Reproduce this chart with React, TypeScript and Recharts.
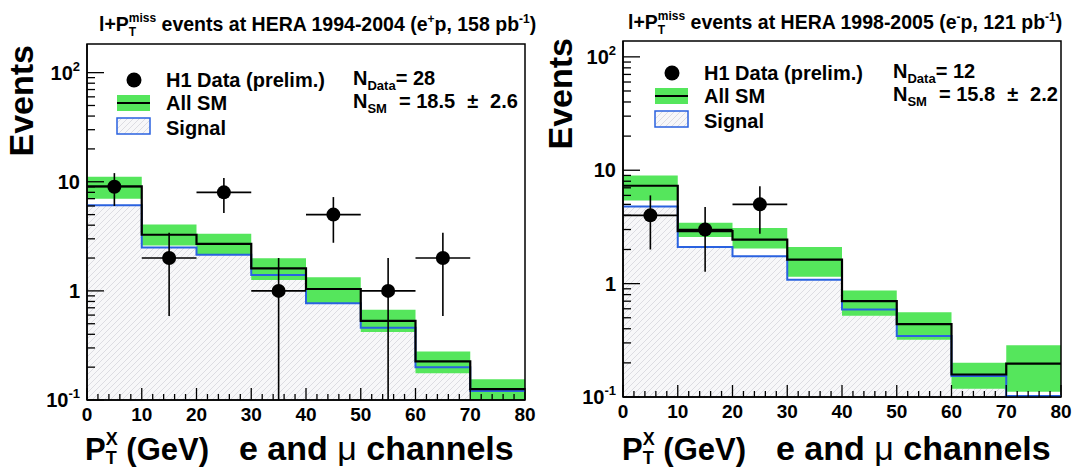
import React from "react";
import { ComposedChart, Area, Line, Scatter, ErrorBar, XAxis, YAxis, ReferenceArea } from "recharts";

const FONT = '"Liberation Sans", Arial, Helvetica, sans-serif';
const GREEN = "#55e65c";
const BLUE = "#2a62e0";

// histogram bin edges (GeV)
const binEdges = [0, 10, 20, 30, 40, 50, 60, 70, 80];
const binHalfWidth = 5;
const xMajorTicks = [0, 10, 20, 30, 40, 50, 60, 70, 80];
const yMajorTicks = [0.1, 1, 10, 100];
const yTickBase = ["10", "1", "10", "10"];
const yTickExp = ["-1", "", "", "2"];

// e+p 1994-2004, 158 pb-1
const posSM = [9.1, 3.27, 2.7, 1.61, 1.04, 0.53, 0.226, 0.126];
const posSMLo = [7.0, 2.6, 2.14, 1.26, 0.77, 0.42, 0.176, 0.1];
const posSMHi = [11.1, 4.05, 3.33, 1.99, 1.33, 0.67, 0.279, 0.155];
const posSignal = [6.1, 2.5, 2.14, 1.4, 0.77, 0.46, 0.2, 0.121];
const posDataX = [5, 15, 25, 35, 45, 55, 65];
const posDataN = [9, 2, 8, 1, 5, 1, 2];
const posDataErr = [3, 1.41, 2.83, 1, 2.24, 1, 1.41];

// e-p 1998-2005, 121 pb-1
const eleSM = [7.3, 2.9, 2.44, 1.63, 0.7, 0.44, 0.158, 0.197];
const eleSMLo = [5.4, 2.58, 2.04, 1.15, 0.52, 0.32, 0.118, 0.111];
const eleSMHi = [9.0, 3.45, 3.1, 2.1, 0.87, 0.56, 0.2, 0.286];
const eleSignal = [4.8, 2.1, 1.74, 1.08, 0.59, 0.345, 0.153, 0.102];
const eleDataX = [5, 15, 25];
const eleDataN = [4, 3, 5];
const eleDataErr = [2, 1.73, 2.24];

const xTicks: number[] = [];
for (let v = 0; v <= 80; v += 2) xTicks.push(v);

const yTicksUpTo = (max: number) => {
  const t: number[] = [];
  for (const d of yMajorTicks)
    for (let m = 1; m <= 9; m++) {
      const v = +(d * m).toPrecision(3);
      if (v <= max) t.push(v);
    }
  return t;
};

// one row per bin edge, last edge repeats the last bin so stepAfter closes the histogram
const histRows = (sm: number[], lo: number[], hi: number[], sig: number[]) =>
  binEdges.map((x, i) => {
    const j = Math.min(i, sm.length - 1);
    return { x, sm: sm[j], band: [lo[j], hi[j]], sig: sig[j] };
  });

const pointRows = (xs: number[], ns: number[], errs: number[]) =>
  xs.map((x, i) => ({
    x,
    y: ns[i],
    ex: binHalfWidth,
    ey: [Math.min(errs[i], ns[i] - 0.1), errs[i]], // clip at the bottom of the log axis
  }));

const XTick = (props: any) => {
  const { x, y, payload } = props;
  const major = xMajorTicks.includes(payload.value);
  return (
    <g>
      <line x1={x} x2={x} y1={y} y2={y - (major ? 12 : 6)} stroke="#000" strokeWidth={1.3} />
      {major && (
        <text x={x} y={y + 21} textAnchor="middle" fontFamily={FONT} fontWeight="bold" fontSize={19} fill="#000">
          {payload.value}
        </text>
      )}
    </g>
  );
};

const YTick = (props: any) => {
  const { x, y, payload } = props;
  const k = yMajorTicks.findIndex((m) => Math.abs(m - payload.value) < 1e-9);
  return (
    <g>
      <line x1={x} x2={x + (k >= 0 ? 17 : 8)} y1={y} y2={y} stroke="#000" strokeWidth={1.3} />
      {k >= 0 && (
        <text x={x - 7} y={y + 7} textAnchor="end" fontFamily={FONT} fontWeight="bold" fontSize={20} fill="#000">
          {yTickBase[k]}
          {yTickExp[k] && (
            <tspan dy={-9} fontSize={13}>
              {yTickExp[k]}
            </tspan>
          )}
        </text>
      )}
    </g>
  );
};

const Hatch = ({ id }: { id: string }) => (
  <pattern id={id} patternUnits="userSpaceOnUse" width={6} height={6}>
    <rect width={6} height={6} fill="#f7f7f9" />
    <path d="M-1,7 L7,-1" stroke="#d6d6dc" strokeWidth={0.8} />
  </pattern>
);

type PanelProps = {
  id: string;
  left: number;
  width: number;
  top: number;
  yMax: number;
  rows: any[];
  points: any[];
};

const Panel = ({ id, left, width, top, yMax, rows, points }: PanelProps) => (
  <div style={{ position: "absolute", left, top: 0 }}>
    <ComposedChart
      width={width}
      height={468}
      data={rows}
      margin={{ top, right: width - 87 - 438, bottom: 0, left: 0 }}
    >
      <defs>
        <Hatch id={id} />
      </defs>
      <XAxis
        dataKey="x"
        type="number"
        domain={[0, 80]}
        ticks={xTicks}
        interval={0}
        height={468 - top - 356}
        tickSize={0}
        tickMargin={0}
        tickLine={false}
        tick={<XTick />}
        axisLine={{ stroke: "#000", strokeWidth: 1.5 }}
        allowDataOverflow
      />
      <YAxis
        type="number"
        scale="log"
        domain={[0.1, yMax]}
        ticks={yTicksUpTo(yMax)}
        interval={0}
        width={87}
        tickSize={0}
        tickMargin={0}
        tickLine={false}
        tick={<YTick />}
        axisLine={{ stroke: "#000", strokeWidth: 1.5 }}
        allowDataOverflow
      />
      <Area type="stepAfter" dataKey="sig" stroke="none" fill={`url(#${id})`} fillOpacity={1} baseValue={0.1} isAnimationActive={false} />
      <Area type="stepAfter" dataKey="band" stroke="none" fill={GREEN} fillOpacity={1} isAnimationActive={false} />
      <Line type="stepAfter" dataKey="sig" stroke={BLUE} strokeWidth={2} dot={false} activeDot={false} isAnimationActive={false} />
      <Line type="stepAfter" dataKey="sm" stroke="#000" strokeWidth={2.2} dot={false} activeDot={false} isAnimationActive={false} />
      <Scatter
        data={points}
        dataKey="y"
        fill="#000"
        shape={(p: any) => <circle cx={p.cx} cy={p.cy} r={7} fill="#000" />}
        isAnimationActive={false}
      >
        <ErrorBar dataKey="ey" direction="y" width={0} stroke="#000" strokeWidth={1.6} />
        <ErrorBar dataKey="ex" direction="x" width={0} stroke="#000" strokeWidth={1.6} />
      </Scatter>
      <ReferenceArea x1={0} x2={80} y1={0.1} y2={yMax} fill="none" stroke="#000" strokeWidth={1.5} ifOverflow="visible" />
    </ComposedChart>
  </div>
);

type LegendProps = { x: number; y: number; nx: number; nData: string; nSM: string; nSMErr: string; hatch: string };

// legend block: x = left of the icons, y = centre of the data marker row
const LegendBlock = ({ x, y, nx, nData, nSM, nSMErr, hatch }: LegendProps) => (
  <g>
    <circle cx={x + 17} cy={y} r={7.5} fill="#000" />
    <text x={x + 49} y={y + 7} fontSize={20}>H1 Data (prelim.)</text>
    <rect x={x} y={y + 15} width={33} height={16} fill={GREEN} />
    <line x1={x} x2={x + 33} y1={y + 23} y2={y + 23} stroke="#000" strokeWidth={2} />
    <text x={x + 49} y={y + 30} fontSize={20}>All SM</text>
    <rect x={x} y={y + 38} width={33} height={16} fill={`url(#${hatch})`} stroke={BLUE} strokeWidth={1.5} />
    <text x={x + 49} y={y + 55} fontSize={20}>Signal</text>
    <text x={nx} y={y + 5} fontSize={20}>
      N
      <tspan dy={5} fontSize={13}>Data</tspan>
      <tspan dy={-5}>{"= " + nData}</tspan>
    </text>
    <text x={nx} y={y + 28} fontSize={20}>
      N
      <tspan dy={5} fontSize={13}>SM</tspan>
      <tspan dy={-5} dx={12}>{"= " + nSM}</tspan>
      <tspan dx={12}>±</tspan>
      <tspan dx={12}>{nSMErr}</tspan>
    </text>
  </g>
);

const Title = ({ x, y, years, beam, lumi }: { x: number; y: number; years: string; beam: string; lumi: string }) => (
  <text x={x} y={y} fontSize={19.5}>
    l+P
    <tspan dy={5} fontSize={12}>T</tspan>
    <tspan dx={-0.611 * 12} dy={-14} fontSize={12}>miss</tspan>
    <tspan dy={9}>{" events at HERA " + years + " (e"}</tspan>
    <tspan dy={-8} fontSize={12}>{beam}</tspan>
    <tspan dy={8}>{"p, " + lumi + " pb"}</tspan>
    <tspan dy={-8} fontSize={12}>-1</tspan>
    <tspan dy={8}>)</tspan>
  </text>
);

const XTitle = ({ x, y }: { x: number; y: number }) => (
  <text x={x} y={y} fontSize={31}>
    P
    <tspan dy={4} fontSize={18}>T</tspan>
    <tspan dx={-0.611 * 18} dy={-19} fontSize={18}>X</tspan>
    <tspan dy={15}>{" (GeV)"}</tspan>
    <tspan dx={30} fontSize={34}>{"e and "}</tspan>
    <tspan fontSize={34} fontWeight="normal">μ</tspan>
    <tspan fontSize={34}>{" channels"}</tspan>
  </text>
);

export default function App() {
  return (
    <div style={{ position: "absolute", left: 0, top: 0, width: 1073, height: 468, background: "#fff", overflow: "hidden" }}>
      <Panel
        id="hatchL"
        left={0}
        width={536}
        top={44}
        yMax={183}
        rows={histRows(posSM, posSMLo, posSMHi, posSignal)}
        points={pointRows(posDataX, posDataN, posDataErr)}
      />
      <Panel
        id="hatchR"
        left={536}
        width={537}
        top={41}
        yMax={138}
        rows={histRows(eleSM, eleSMLo, eleSMHi, eleSignal)}
        points={pointRows(eleDataX, eleDataN, eleDataErr)}
      />
      <svg
        width={1073}
        height={468}
        style={{ position: "absolute", left: 0, top: 0, pointerEvents: "none" }}
        fontFamily={FONT}
        fontWeight="bold"
        fill="#000"
      >
        <defs>
          <Hatch id="hatchLeg" />
        </defs>
        <Title x={99} y={31} years="1994-2004" beam="+" lumi="158" />
        <Title x={628} y={29} years="1998-2005" beam="-" lumi="121" />
        <text transform="translate(33,45) rotate(-90)" textAnchor="end" fontSize={34}>Events</text>
        <text transform="translate(572,38) rotate(-90)" textAnchor="end" fontSize={34}>Events</text>
        <LegendBlock x={117} y={80} nx={353} nData="28" nSM="18.5" nSMErr="2.6" hatch="hatchLeg" />
        <LegendBlock x={655} y={73} nx={893} nData="12" nSM="15.8" nSMErr="2.2" hatch="hatchLeg" />
        <XTitle x={85} y={460} />
        <XTitle x={622} y={460} />
      </svg>
    </div>
  );
}
